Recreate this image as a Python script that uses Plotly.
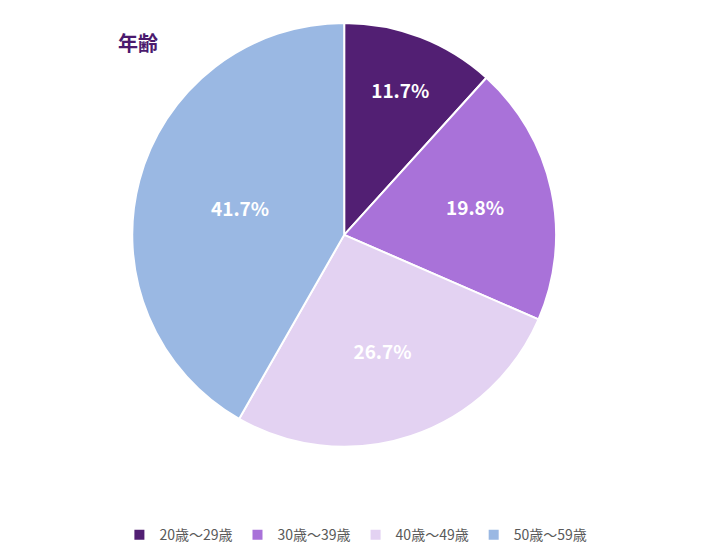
import plotly.graph_objects as go

labels = ["20歳～29歳", "30歳～39歳", "40歳～49歳", "50歳～59歳"]
values = [11.7, 19.8, 26.7, 41.7]
colors = ["#521f73", "#a972d9", "#e3d2f2", "#9ab8e3"]

fig = go.Figure(go.Pie(
    labels=labels, values=values, sort=False, direction="clockwise", rotation=0,
    marker=dict(colors=colors, line=dict(color="white", width=2)),
    texttemplate="<b>%{value:.1f}%</b>", textposition="inside", insidetextorientation="horizontal",
    textfont=dict(color="white", size=19, family="Noto Sans CJK JP"),
    domain=dict(x=[0.175, 0.772], y=[0.205, 0.973]),
))
fig.update_layout(
    width=710, height=552, margin=dict(l=0, r=0, t=0, b=0),
    paper_bgcolor="white", plot_bgcolor="white",
    font=dict(family="Noto Sans CJK JP", color="#595959"),
    title=dict(text="<b>年齢</b>", x=0.155, y=0.935, xanchor="left", yanchor="middle",
               font=dict(size=20, color="#4b1a6e")),
    legend=dict(orientation="h", x=0.49, xanchor="center", y=0.045, yanchor="middle",
                font=dict(size=14, color="#595959"), traceorder="normal",
                itemwidth=30, itemsizing="constant"),
)
fig.write_html("out.html")
